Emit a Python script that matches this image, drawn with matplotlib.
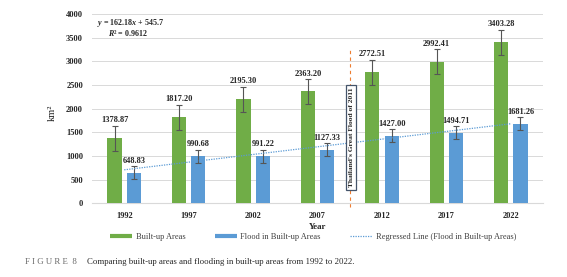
import matplotlib
matplotlib.use("Agg")
import matplotlib.pyplot as plt
from matplotlib.lines import Line2D
import numpy as np

years = ["1992", "1997", "2002", "2007", "2012", "2017", "2022"]
builtup = [1378.87, 1817.20, 2195.30, 2363.20, 2772.51, 2992.41, 3403.28]
flood = [648.83, 990.68, 991.22, 1127.33, 1427.00, 1494.71, 1681.26]
builtup_err = [265, 265, 265, 265, 265, 265, 265]
flood_err = [138, 138, 138, 138, 138, 138, 138]
slope, intercept, r2 = 162.18, 545.7, 0.9612

plt.rcParams['font.family'] = ['Liberation Serif', 'DejaVu Serif']
plt.rcParams['mathtext.fontset'] = 'custom'
plt.rcParams['mathtext.rm'] = 'Liberation Serif:bold'
plt.rcParams['mathtext.it'] = 'Liberation Serif:italic:bold'
plt.rcParams['mathtext.bf'] = 'Liberation Serif:bold'

GREEN = "#70AD47"
BLUE = "#5B9BD5"
fig = plt.figure(figsize=(5.67, 2.77), dpi=100)
ax = fig.add_axes([0.1623, 0.266, 0.7954, 0.6834])

x = np.arange(len(years))
w = 0.22
off = 0.15
ax.bar(x - off, builtup, w, color=GREEN, zorder=3)
ax.bar(x + off, flood, w, color=BLUE, zorder=3)
ekw = dict(fmt='none', ecolor='#555555', elinewidth=0.8, capsize=2, capthick=0.8, zorder=4)
ax.errorbar(x - off, builtup, yerr=builtup_err, **ekw)
ax.errorbar(x + off, flood, yerr=flood_err, **ekw)

for xi, v, e in zip(x - off, builtup, builtup_err):
    ax.text(xi, v + e + 30, f"{v:.2f}", ha='center', va='bottom', fontsize=6, fontweight='bold', color='#262626')
for xi, v, e in zip(x + off, flood, flood_err):
    ax.text(xi, v + e + 30, f"{v:.2f}", ha='center', va='bottom', fontsize=6, fontweight='bold', color='#262626')

# regression line
xr = x + 1
yr = slope * xr + intercept
ax.plot(x, yr, color=BLUE, linestyle=(0, (1, 1)), linewidth=0.9, zorder=5)

# vertical event line
ax.plot([3.5, 3.5], [-80, 3250], color='#ED7D31', linestyle=(0, (3, 3)), linewidth=0.8, clip_on=False, zorder=2)
ax.text(3.52, 1390, "Thailand's Great Flood of 2011", rotation=90, ha='center', va='center',
        fontsize=5.4, fontweight='bold', color='#262626', zorder=6,
        bbox=dict(boxstyle='square,pad=0.35', fc='white', ec='#44546A', lw=0.9))

ax.text(0.012, 0.955, f"$y$ = {slope}$x$ + {intercept}", transform=ax.transAxes, fontsize=5.8,
        fontweight='bold', color='#262626', va='center', ha='left')
ax.text(0.036, 0.90, f"$R$² = {r2}", transform=ax.transAxes, fontsize=5.8,
        fontweight='bold', color='#262626', va='center', ha='left')

ax.set_xlim(-0.5, 6.5)
ax.set_ylim(0, 4000)
ax.set_yticks(np.arange(0, 4001, 500))
ax.set_xticks(x)
ax.set_xticklabels(years)
ax.grid(axis='y', color='#D9D9D9', linewidth=0.7, zorder=0)
for s in ['top', 'right', 'left']:
    ax.spines[s].set_visible(False)
ax.spines['bottom'].set_color('#D9D9D9')
ax.tick_params(axis='both', length=0, labelsize=6, colors='#262626')
for lab in ax.get_xticklabels() + ax.get_yticklabels():
    lab.set_fontweight('bold')
ax.tick_params(axis='y', pad=6.5)
ax.tick_params(axis='x', pad=6.5)

fig.text(52 / 567, 1 - 113 / 277, "km²", rotation=90, ha='center', va='center', fontsize=7.5, color='#262626')
fig.text(317.5 / 567, 1 - 227 / 277, "Year", ha='center', va='center', fontsize=6.3, fontweight='bold', color='#262626')

handles = [Line2D([], [], color=GREEN, lw=3, solid_capstyle='butt'),
           Line2D([], [], color=BLUE, lw=3, solid_capstyle='butt'),
           Line2D([], [], color=BLUE, lw=0.9, linestyle=(0, (1, 1)))]
labels = ["Built-up Areas", "Flood in Built-up Areas", "Regressed Line (Flood in Built-up Areas)"]
fig.legend(handles, labels, loc='center', bbox_to_anchor=(313 / 567, 1 - 237 / 277), ncol=3,
           frameon=False, fontsize=6, handlelength=2.7, columnspacing=3.5, handletextpad=0.4,
           labelcolor='#404040')

fig.text(25 / 567, 1 - 262 / 277, "F I G U R E  8", fontsize=6.3, color='#666666', va='center', ha='left')
fig.text(87 / 567, 1 - 262 / 277, "Comparing built-up areas and flooding in built-up areas from 1992 to 2022.",
         fontsize=6.3, color='#262626', va='center', ha='left')

fig.savefig("out.png", dpi=100)
